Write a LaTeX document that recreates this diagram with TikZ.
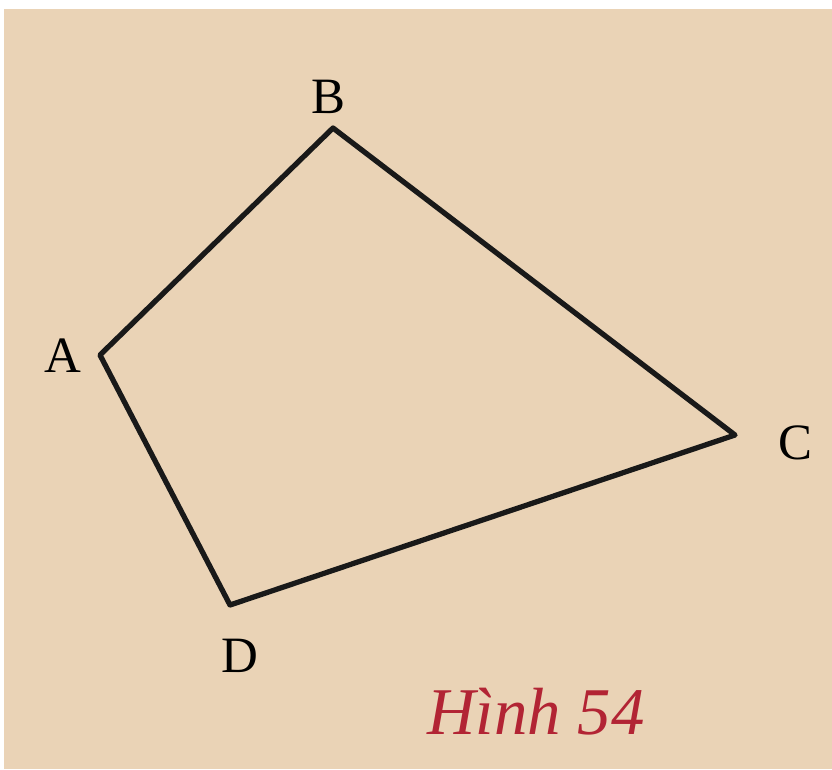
\documentclass[tikz,border=0pt]{standalone}
\usepackage{amsmath,amssymb}
\usepackage{fontspec}
\setmainfont{Liberation Serif}
\usepackage{tikz}
\usetikzlibrary{positioning,calc}
\definecolor{paper}{RGB}{234,211,182}
\definecolor{captionred}{RGB}{178,36,52}
\begin{document}
\begin{tikzpicture}[x=0.02cm,y=-0.02cm,
    vlabel/.style={font=\fontsize{29}{32}\selectfont,inner sep=0pt},
    edge/.style={line width=3pt,line join=round,black!90}]
      \useasboundingbox (0,0) rectangle (832,769);
      \fill[white] (0,0) rectangle (832,769);
      \fill[paper] (4,9) rectangle (832,769);
      \coordinate (A) at (100,355); \coordinate (B) at (333,128);
      \coordinate (C) at (735,435); \coordinate (D) at (230,605);
      \draw[edge] (A) -- (B) -- (C) -- (D) -- cycle;
      \node[vlabel] (lA) at (63,356) {A}; \node[vlabel] (lB) at (328,97) {B};
      \node[vlabel] (lC) at (795,443) {C}; \node[vlabel] (lD) at (240,656) {D};
      \node[captionred,font=\fontsize{38}{42}\selectfont\itshape] (cap) at (536,712) {Hình 54};
    \end{tikzpicture}
\end{document}
